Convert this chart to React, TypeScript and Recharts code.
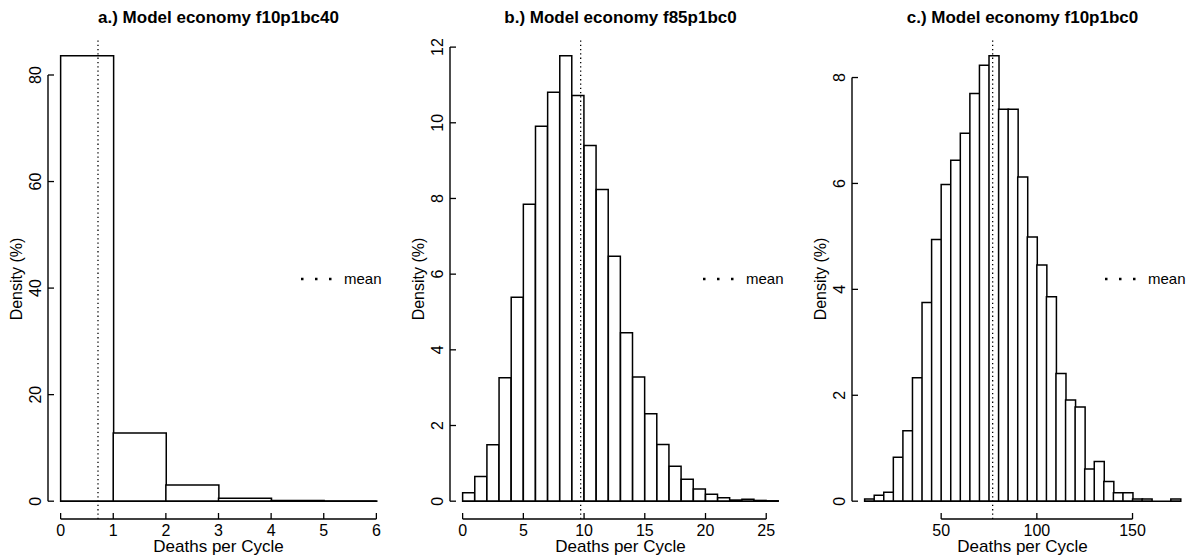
import React from "react";
import { ComposedChart, Bar, XAxis, YAxis, ReferenceLine } from "recharts";

// a.) Model economy f10p1bc40  (bin width 1)
const edgesA = [0, 1, 2, 3, 4, 5, 6];
const densityA = [83.6, 12.8, 3.05, 0.55, 0.13, 0.05];
const meanA = 0.71;
const xTicksA = [0, 1, 2, 3, 4, 5, 6];
const yTicksA = [0, 20, 40, 60, 80];

// b.) Model economy f85p1bc0  (bin width 1)
const edgesB = [0, 1, 2, 3, 4, 5, 6, 7, 8, 9, 10, 11, 12, 13, 14, 15, 16, 17, 18, 19, 20, 21, 22, 23, 24, 25, 26];
const densityB = [
  0.22, 0.65, 1.49, 3.26, 5.39, 7.85, 9.91, 10.81, 11.77, 10.72, 9.4, 8.24, 6.47,
  4.45, 3.28, 2.31, 1.5, 0.92, 0.58, 0.32, 0.18, 0.09, 0.03, 0.05, 0.02, 0.01,
];
const meanB = 9.72;
const xTicksB = [0, 5, 10, 15, 20, 25];
const yTicksB = [0, 2, 4, 6, 8, 10, 12];

// c.) Model economy f10p1bc0  (bin width 5)
const edgesC = [
  10, 15, 20, 25, 30, 35, 40, 45, 50, 55, 60, 65, 70, 75, 80, 85, 90, 95, 100, 105,
  110, 115, 120, 125, 130, 135, 140, 145, 150, 155, 160, 165, 170, 175,
];
const densityC = [
  0.04, 0.11, 0.17, 0.83, 1.33, 2.33, 3.75, 4.94, 5.98, 6.44, 6.95, 7.7, 8.23, 8.41,
  7.4, 7.4, 6.12, 4.99, 4.46, 3.86, 2.41, 1.91, 1.78, 0.61, 0.75, 0.37, 0.16, 0.16,
  0.04, 0.04, 0, 0, 0.04,
];
const meanC = 76.9;
const xTicksC = [50, 100, 150];
const yTicksC = [0, 2, 4, 6, 8];

const FONT = "'Liberation Sans', Arial, Helvetica, sans-serif";
const PANEL_W = 402;
const H = 556;
const TOP = 38;
const LEFT = 48;
const RIGHT = 13;
const BOTTOM = 37;
const PLOT_W = PANEL_W - LEFT - RIGHT;
const PLOT_H = H - TOP - BOTTOM;

const XTick = (props: any) => {
  const { x, y, payload } = props;
  return (
    <g>
      <line x1={x} x2={x} y1={y} y2={y - 6} stroke="#000" strokeWidth={1.3} />
      <text
        x={x}
        y={y + 11.5}
        textAnchor="middle"
        dominantBaseline="central"
        fontSize={16}
        fontFamily={FONT}
        fill="#000"
      >
        {payload.value}
      </text>
    </g>
  );
};

const YTick = (props: any) => {
  const { x, y, payload } = props;
  const lx = x - 12;
  return (
    <g>
      <line x1={x} x2={x + 6} y1={y} y2={y} stroke="#000" strokeWidth={1.3} />
      <text
        x={lx}
        y={y}
        transform={`rotate(-90 ${lx} ${y})`}
        textAnchor="middle"
        dominantBaseline="central"
        fontSize={16}
        fontFamily={FONT}
        fill="#000"
      >
        {payload.value}
      </text>
    </g>
  );
};

interface PanelProps {
  title: string;
  edges: number[];
  density: number[];
  mean: number;
  xTicks: number[];
  yTicks: number[];
  left: number;
}

const Panel: React.FC<PanelProps> = ({ title, edges, density, mean, xTicks, yTicks, left }) => {
  const rows = density.map((d, i) => ({ mid: (edges[i] + edges[i + 1]) / 2, density: d }));
  const x0 = edges[0];
  const x1 = edges[edges.length - 1];
  // R style 4% axis extension
  const xPad = (x1 - x0) * 0.04;
  const xDom: [number, number] = [x0 - xPad, x1 + xPad];
  const yMax = Math.max(...density);
  const yDom: [number, number] = [-yMax * 0.04, yMax * 1.04];
  const plotRight = LEFT + PLOT_W;

  return (
    <div style={{ position: "absolute", left, top: 0, width: PANEL_W, height: H }}>
      <ComposedChart
        width={PANEL_W}
        height={H}
        data={rows}
        margin={{ top: TOP, right: RIGHT, left: 0, bottom: 0 }}
        barCategoryGap={0}
        barGap={0}
      >
        <XAxis
          type="number"
          dataKey="mid"
          domain={xDom}
          ticks={xTicks}
          interval={0}
          height={BOTTOM}
          axisLine={false}
          tickLine={false}
          tickSize={0}
          tickMargin={0}
          tick={XTick}
          allowDataOverflow
        />
        <YAxis
          type="number"
          domain={yDom}
          ticks={yTicks}
          interval={0}
          width={LEFT}
          axisLine={false}
          tickLine={false}
          tickSize={0}
          tickMargin={0}
          tick={YTick}
          allowDataOverflow
        />
        <Bar dataKey="density" fill="#fff" stroke="#000" strokeWidth={1.5} isAnimationActive={false} />
        <ReferenceLine
          segment={[{ x: x0, y: 0 }, { x: x1, y: 0 }]}
          stroke="#000"
          strokeWidth={1.5}
          ifOverflow="visible"
        />
        <ReferenceLine
          x={mean}
          stroke="#000"
          strokeWidth={1.3}
          strokeDasharray="1.3 3"
          ifOverflow="visible"
        />
        <ReferenceLine
          segment={[{ x: xTicks[0], y: yDom[0] }, { x: xTicks[xTicks.length - 1], y: yDom[0] }]}
          stroke="#000"
          strokeWidth={1.4}
          ifOverflow="visible"
        />
        <ReferenceLine
          segment={[{ x: xDom[0], y: yTicks[0] }, { x: xDom[0], y: yTicks[yTicks.length - 1] }]}
          stroke="#000"
          strokeWidth={1.4}
          ifOverflow="visible"
        />
      </ComposedChart>

      <div
        style={{
          position: "absolute",
          left: LEFT,
          width: PLOT_W,
          top: 8,
          lineHeight: "20px",
          textAlign: "center",
          fontWeight: "bold",
          fontSize: 17,
          fontFamily: FONT,
          whiteSpace: "nowrap",
        }}
      >
        {title}
      </div>
      <div
        style={{
          position: "absolute",
          left: LEFT,
          width: PLOT_W,
          top: H - 18,
          lineHeight: "17px",
          textAlign: "center",
          fontSize: 17,
          fontFamily: FONT,
          whiteSpace: "nowrap",
        }}
      >
        Deaths per Cycle
      </div>
      <div
        style={{
          position: "absolute",
          left: 17 - 100,
          width: 200,
          top: TOP + PLOT_H / 2 - 10,
          lineHeight: "20px",
          textAlign: "center",
          fontSize: 16,
          fontFamily: FONT,
          transform: "rotate(-90deg)",
          whiteSpace: "nowrap",
        }}
      >
        Density (%)
      </div>
      <svg
        style={{ position: "absolute", left: plotRight - 88, top: TOP + PLOT_H / 2 - 5 }}
        width={34}
        height={10}
      >
        <line x1={0} x2={32} y1={5} y2={5} stroke="#000" strokeWidth={2.5} strokeDasharray="2.5 11.5" />
      </svg>
      <div
        style={{
          position: "absolute",
          left: plotRight - 45,
          top: TOP + PLOT_H / 2 - 10,
          lineHeight: "20px",
          fontSize: 15,
          fontFamily: FONT,
        }}
      >
        mean
      </div>
    </div>
  );
};

export default function App() {
  return (
    <div
      style={{
        position: "absolute",
        left: 0,
        top: 0,
        width: 1190,
        height: H,
        overflow: "hidden",
        background: "#fff",
      }}
    >
      <Panel
        title="a.) Model economy f10p1bc40"
        edges={edgesA}
        density={densityA}
        mean={meanA}
        xTicks={xTicksA}
        yTicks={yTicksA}
        left={0}
      />
      <Panel
        title="b.) Model economy f85p1bc0"
        edges={edgesB}
        density={densityB}
        mean={meanB}
        xTicks={xTicksB}
        yTicks={yTicksB}
        left={PANEL_W}
      />
      <Panel
        title="c.) Model economy f10p1bc0"
        edges={edgesC}
        density={densityC}
        mean={meanC}
        xTicks={xTicksC}
        yTicks={yTicksC}
        left={PANEL_W * 2}
      />
    </div>
  );
}
